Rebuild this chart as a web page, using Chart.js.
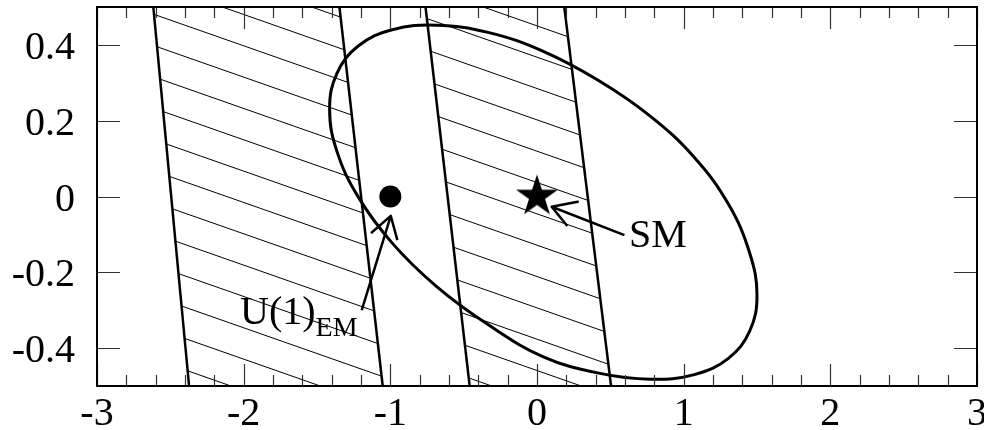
<!DOCTYPE html>
<html>
<head>
<meta charset="utf-8">
<script src="https://cdn.jsdelivr.net/npm/chart.js@4/dist/chart.umd.min.js"></script>
<style>
  html, body { margin: 0; padding: 0; background: #fff; }
  #wrap { width: 984px; height: 430px; }
</style>
</head>
<body>
<div id="wrap"><canvas id="chart" width="984" height="430"></canvas></div>
<script>
// tick labels
const xTicks = [-3, -2, -1, 0, 1, 2, 3];
const yTicks = [-0.4, -0.2, 0, 0.2, 0.4];

// hatched bands, boundary x read at y = 0.5 (top) and y = -0.5 (bottom)
const bandY       = [0.5, -0.5];
const band1LeftX  = [-2.616, -2.372];
const band1RightX = [-1.347, -1.052];
const band2LeftX  = [-0.760, -0.459];
const band2RightX = [0.186, 0.505];

// closed contour (one lap, no repeated point)
const ellipseX = [1.500, 1.450, 1.305, 1.073, 0.772, 0.420, 0.043, -0.334, -0.686, -0.987, -1.219, -1.364,
                  -1.414, -1.364, -1.219, -0.987, -0.686, -0.334, 0.043, 0.420, 0.772, 1.073, 1.305, 1.450];
const ellipseY = [-0.261, -0.149, -0.020, 0.103, 0.212, 0.306, 0.383, 0.433, 0.452, 0.440, 0.397, 0.325,
                  0.231, 0.119, -0.001, -0.123, -0.237, -0.338, -0.423, -0.466, -0.482, -0.470, -0.427, -0.355];

// markers
const smPoint = [0, 0];
const u1Point = [-1, 0];

// arrows: tail, tip, wing, tip, wing
const smArrowX = [0.596, 0.100, 0.278, 0.100, 0.207];
const smArrowY = [-0.102, -0.027, -0.014, -0.027, -0.078];
const u1ArrowX = [-1.195, -0.997, -1.127, -0.997, -0.952];
const u1ArrowY = [-0.300, -0.051, -0.095, -0.051, -0.115];

const pt = (xs, ys) => xs.map((v, i) => ({x: v, y: ys[i]}));

const canvas = document.getElementById('chart');
const mainCtx = canvas.getContext('2d');
const FONT = '"Liberation Serif", "Times New Roman", serif';

function hatchPattern(phase) {
	const W = 268, H = 94, S = H / 3;
	const c = document.createElement('canvas');
	c.width = W; c.height = H;
	const g = c.getContext('2d');
	g.strokeStyle = '#000';
	g.lineWidth = 1;
	g.beginPath();
	for (let k = -4; k <= 3; k++) {
		g.moveTo(0, phase + k * S);
		g.lineTo(W, phase + k * S + H);
	}
	g.stroke();
	return mainCtx.createPattern(c, 'repeat');
}

function starImage(r) {
	const s = Math.ceil(r * 2) + 2;
	const c = document.createElement('canvas');
	c.width = c.height = s;
	const g = c.getContext('2d');
	g.translate(s / 2, s / 2);
	g.beginPath();
	for (let i = 0; i < 10; i++) {
		const rr = i % 2 ? r * 0.382 : r;
		const a = -Math.PI / 2 + i * Math.PI / 5;
		g.lineTo(rr * Math.cos(a), rr * Math.sin(a));
	}
	g.closePath();
	g.fillStyle = '#000';
	g.fill();
	return c;
}

function bandPolygon(leftX, rightX) {
	return [
		{x: leftX[0], y: bandY[0]}, {x: leftX[1], y: bandY[1]},
		{x: rightX[1], y: bandY[1]}, {x: rightX[0], y: bandY[0]},
		{x: leftX[0], y: bandY[0]}
	];
}

const ellipsePts = pt(ellipseX, ellipseY);
const n = ellipsePts.length;
// wrap around so the spline closes smoothly; first and last pieces are hidden
const ellipseData = [ellipsePts[n - 1], ...ellipsePts, ellipsePts[0], ellipsePts[1]];

const lineStyle = {showLine: true, pointRadius: 0, borderColor: '#000', borderWidth: 2.5, fill: false};

const datasets = [
	{data: [{x: smPoint[0], y: smPoint[1]}], pointStyle: starImage(22), pointRadius: 22, showLine: false},
	{data: [{x: u1Point[0], y: u1Point[1]}], pointStyle: 'circle', pointRadius: 11,
	 backgroundColor: '#000', borderColor: '#000', borderWidth: 0, showLine: false},
	{...lineStyle, data: pt(smArrowX, smArrowY), borderJoinStyle: 'round'},
	{...lineStyle, data: pt(u1ArrowX, u1ArrowY), borderJoinStyle: 'round'},
	{...lineStyle, data: ellipseData, tension: 0.4, borderWidth: 3,
	 segment: {
		borderColor: c => (c.p0DataIndex === 0 || c.p1DataIndex === ellipseData.length - 1) ? 'rgba(0,0,0,0)' : undefined
	 }},
	{...lineStyle, data: pt(band1LeftX, bandY)},
	{...lineStyle, data: pt(band1RightX, bandY)},
	{...lineStyle, data: pt(band2LeftX, bandY)},
	{...lineStyle, data: pt(band2RightX, bandY)},
	{showLine: true, pointRadius: 0, borderWidth: 0, borderColor: 'rgba(0,0,0,0)',
	 data: bandPolygon(band1LeftX, band1RightX), fill: 'shape', backgroundColor: hatchPattern(23)},
	{showLine: true, pointRadius: 0, borderWidth: 0, borderColor: 'rgba(0,0,0,0)',
	 data: bandPolygon(band2LeftX, band2RightX), fill: 'shape', backgroundColor: hatchPattern(25.5)}
];

// frame, inward ticks, tick labels and text labels
const framePlugin = {
	id: 'frame',
	afterDatasetsDraw(chart) {
		const {ctx, chartArea: a, scales: {x, y}} = chart;
		ctx.save();
		ctx.strokeStyle = '#333';
		ctx.lineWidth = 1.2;
		ctx.beginPath();
		for (let i = -15; i <= 15; i++) {
			const v = i / 5;
			const px = Math.round(x.getPixelForValue(v)) + 0.5;
			const len = Number.isInteger(v) ? 22 : 11;
			ctx.moveTo(px, a.bottom); ctx.lineTo(px, a.bottom - len);
			ctx.moveTo(px, a.top);    ctx.lineTo(px, a.top + len);
		}
		yTicks.forEach(v => {
			const py = Math.round(y.getPixelForValue(v)) + 0.5;
			ctx.moveTo(a.left, py);  ctx.lineTo(a.left + 23, py);
			ctx.moveTo(a.right, py); ctx.lineTo(a.right - 23, py);
		});
		ctx.stroke();

		ctx.strokeStyle = '#000';
		ctx.lineWidth = 2;
		ctx.strokeRect(a.left, a.top, a.right - a.left, a.bottom - a.top);

		ctx.fillStyle = '#000';
		ctx.textBaseline = 'alphabetic';
		ctx.font = '40px ' + FONT;

		ctx.textAlign = 'center';
		xTicks.forEach(v => ctx.fillText(String(v), x.getPixelForValue(v), a.bottom + 39));
		ctx.textAlign = 'right';
		yTicks.forEach(v => ctx.fillText(String(v), a.left - 22, y.getPixelForValue(v) + 14));

		ctx.textAlign = 'left';
		ctx.fillText('SM', x.getPixelForValue(0.627), y.getPixelForValue(-0.133));
		const ux = x.getPixelForValue(-2.025), uy = y.getPixelForValue(-0.336);
		ctx.fillText('U(1)', ux, uy);
		const w = ctx.measureText('U(1)').width;
		ctx.font = '28px ' + FONT;
		ctx.fillText('EM', ux + w, uy + 12);
		ctx.restore();
	}
};

new Chart(canvas, {
	type: 'scatter',
	data: {datasets},
	options: {
		responsive: false,
		animation: false,
		events: [],
		layout: {autoPadding: false, padding: {top: 7, right: 7, left: 0, bottom: 0}},
		plugins: {legend: {display: false}, tooltip: {enabled: false}},
		scales: {
			x: {
				type: 'linear', min: -3, max: 3,
				afterBuildTicks: s => { s.ticks = xTicks.map(v => ({value: v})); },
				afterFit: s => { s.height = 44; },
				ticks: {display: false},
				grid: {display: false, drawTicks: false},
				border: {display: false}
			},
			y: {
				type: 'linear', min: -0.5, max: 0.5,
				afterBuildTicks: s => { s.ticks = yTicks.map(v => ({value: v})); },
				afterFit: s => { s.width = 97; },
				ticks: {display: false},
				grid: {display: false, drawTicks: false},
				border: {display: false}
			}
		}
	},
	plugins: [framePlugin]
});
</script>
</body>
</html>
